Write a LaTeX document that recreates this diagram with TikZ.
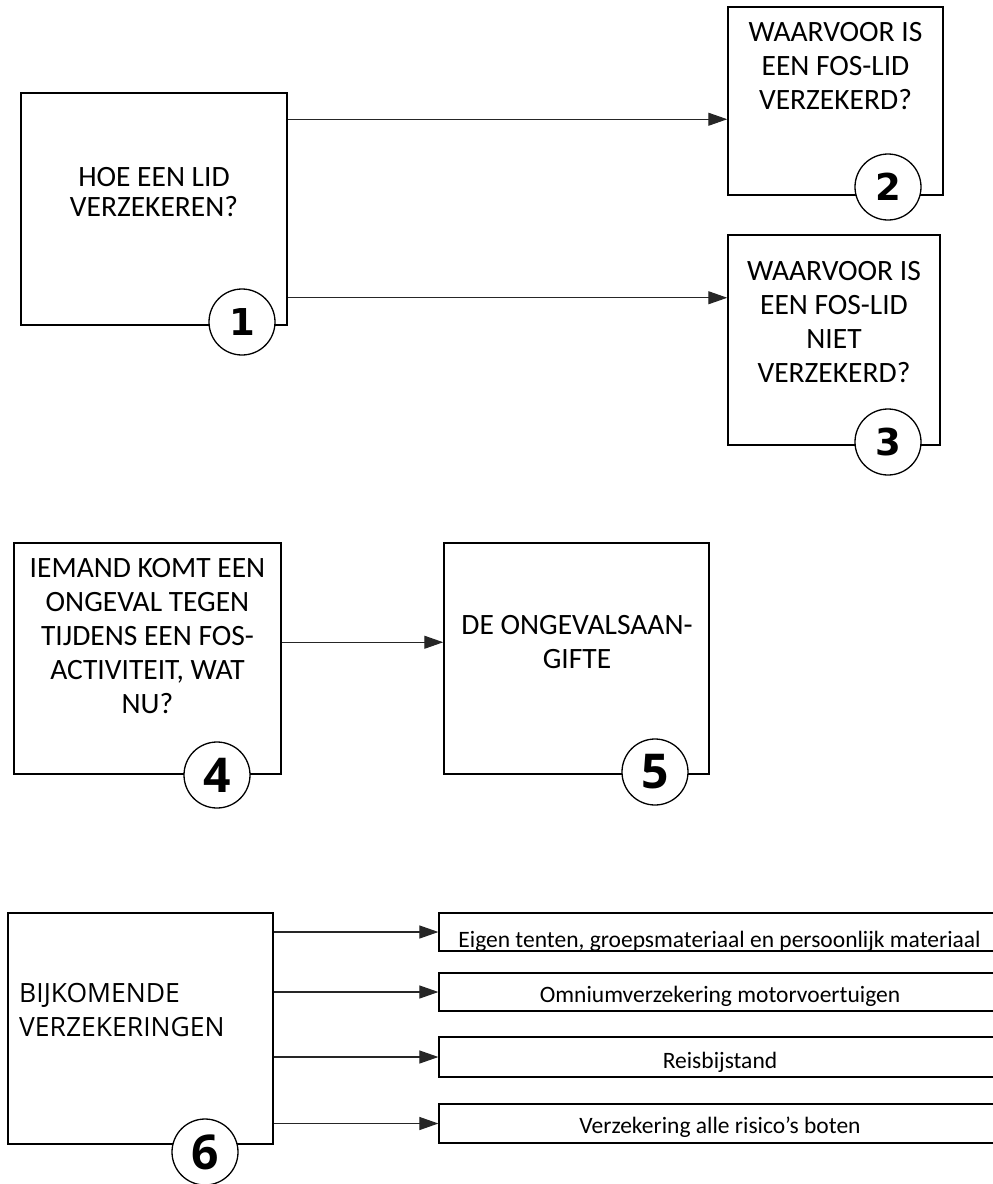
\documentclass[tikz,border=0pt]{standalone}
\usepackage{fontspec}
\setmainfont{Carlito}
\newfontfamily\headfont{Open Sans}
\newfontfamily\numfont{DejaVu Sans}
\usetikzlibrary{arrows.meta,positioning}

\begin{document}
\begin{tikzpicture}[x=1pt, y=-1pt,
  box/.style={draw, line width=1.5pt, inner sep=0pt},
  item/.style={draw, line width=1.2pt, inner sep=0pt, minimum width=561pt},
  boxtext/.style={align=center, inner sep=0pt, font=\fontsize{29.5}{34}\selectfont},
  itemtext/.style={anchor=base, inner sep=0pt, font=\fontsize{23.5}{27}\selectfont},
  num/.style={circle, draw, fill=white, line width=1.3pt, minimum size=66pt, inner sep=0pt,
    font=\numfont\bfseries\fontsize{37}{37}\selectfont},
  bignum/.style={num, font=\headfont\bfseries\fontsize{48}{48}\selectfont},
  conn/.style={-{Triangle[length=19pt,width=13pt]}, line width=1.1pt, black!85}]

\useasboundingbox (0,0) rectangle (993,1184);

\node (b1) at (154,209) [box, minimum width=266pt, minimum height=232pt] {};
\node (t1) at (154,192.5) [boxtext, font=\fontsize{29.5}{30}\selectfont] {HOE EEN LID\\VERZEKEREN?};
\node (n1) at (242,322) [num] {1};

\node (b2) at (835.5,101) [box, minimum width=215pt, minimum height=188pt] {};
\node (t2) at (835.5,66) [boxtext] {WAARVOOR IS\\EEN FOS-LID\\VERZEKERD?};
\node (n2) at (888,187) [num] {2};

\node (b3) at (834,340) [box, minimum width=212pt, minimum height=210pt] {};
\node (t3) at (834,322) [boxtext] {WAARVOOR IS\\EEN FOS-LID\\NIET\\VERZEKERD?};
\node (n3) at (888,442) [num] {3};

\coordinate (a12) at ([yshift=-27pt]b1.north east);
\coordinate (a13) at ([yshift=28pt]b1.south east);
\draw[conn] (a12) -- (a12 -| b2.west);
\draw[conn] (a13) -- (a13 -| b3.west);

\node (b4) at (147.5,658.5) [box, minimum width=267pt, minimum height=231pt] {};
\node (t4) at (147.5,636) [boxtext] {IEMAND KOMT EEN\\ONGEVAL TEGEN\\TIJDENS EEN FOS-\\ACTIVITEIT, WAT\\NU?};
\node (n4) at (217,775) [bignum] {4};

\node (b5) at (576.5,658.5) [box, minimum width=265pt, minimum height=231pt] {};
\node (t5) at (577,642) [boxtext] {DE ONGEVALSAAN-\\GIFTE};
\node (n5) at (655,772) [bignum] {5};

\coordinate (a45) at ([yshift=-100pt]b4.north east);
\draw[conn] (a45) -- (a45 -| b5.west);

\node (b6) at (140.5,1028.5) [box, minimum width=265pt, minimum height=231pt] {};
\node (t6) at (19,1010) [anchor=west, align=left, inner sep=0pt,
  font=\headfont\fontsize{26.5}{34}\selectfont] {BIJKOMENDE\\VERZEKERINGEN};
\node (n6) at (205,1152) [bignum] {6};

\node (s1) at (719.5,932) [item, minimum height=38pt] {};
\node (s2) at (719.5,992) [item, minimum height=38pt] {};
\node (s3) at (719.5,1057) [item, minimum height=40pt] {};
\node (s4) at (719.5,1123.5) [item, minimum height=39pt] {};

\node (l1) at (719.5,947) [itemtext] {Eigen tenten, groepsmateriaal en persoonlijk materiaal};
\node (l2) at (720,1002) [itemtext] {Omniumverzekering motorvoertuigen};
\node (l3) at (720,1068) [itemtext] {Reisbijstand};
\node (l4) at (720,1133) [itemtext] {Verzekering alle risico’s boten};

\draw[conn] (b6.east |- s1.west) -- (s1.west);
\draw[conn] (b6.east |- s2.west) -- (s2.west);
\draw[conn] (b6.east |- s3.west) -- (s3.west);
\draw[conn] (b6.east |- s4.west) -- (s4.west);

\end{tikzpicture}
\end{document}
